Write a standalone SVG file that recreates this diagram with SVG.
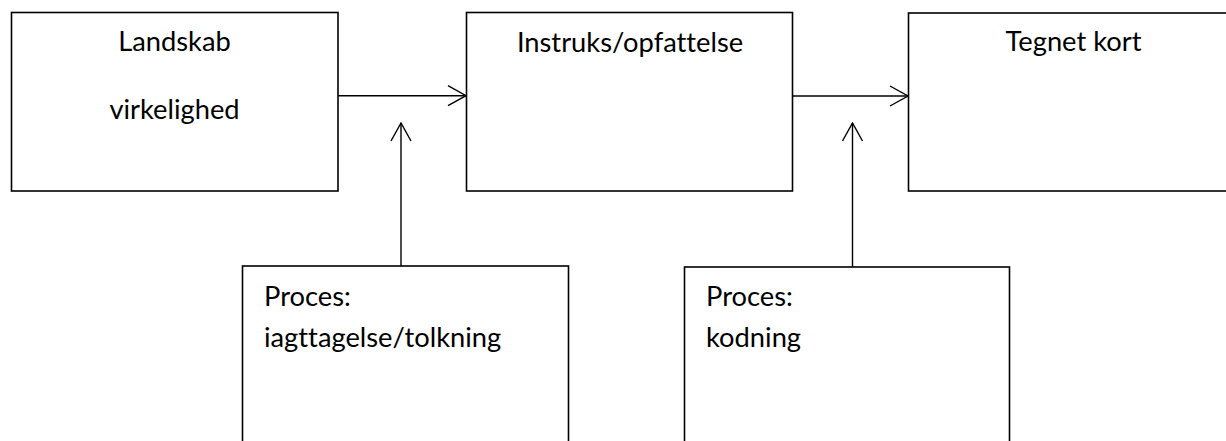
<svg xmlns="http://www.w3.org/2000/svg" width="1226" height="441" viewBox="0 0 1226 441">
<defs>
<style>
.box{fill:#fff;stroke:#000;stroke-width:1.6}
.t{font-family:Lato,"Open Sans","Liberation Sans",sans-serif;font-size:27.3px;fill:#000;font-variant-ligatures:none}
.c{text-anchor:middle}
.ln{fill:none;stroke:#000;stroke-width:1.4}
</style>
<marker id="ah" viewBox="0 0 20 22" refX="19" refY="11" markerWidth="20" markerHeight="22" markerUnits="userSpaceOnUse" orient="auto">
<path d="M1,1 L19,11 L1,21" fill="none" stroke="#000" stroke-width="1.4"/>
</marker>
</defs>
<rect width="1226" height="441" fill="#fff"/>
<g id="node-landskab">
<rect class="box" x="11.5" y="12.5" width="326.5" height="178.5"/>
<text class="t c" x="174.5" y="51">Landskab</text>
<text class="t c" x="174.5" y="119">virkelighed</text>
</g>
<g id="node-instruks">
<rect class="box" x="466.5" y="12.5" width="326" height="178.5"/>
<text class="t c" x="630" y="52">Instruks/opfattelse</text>
</g>
<g id="node-tegnet">
<rect class="box" x="908.5" y="13" width="331" height="178"/>
<text class="t c" x="1073.5" y="51">Tegnet kort</text>
</g>
<g id="node-proces1">
<rect class="box" x="242.5" y="266" width="326" height="190"/>
<text class="t" x="264" y="305.5">Proces:</text>
<text class="t" x="264" y="346.5">iagttagelse/tolkning</text>
</g>
<g id="node-proces2">
<rect class="box" x="684.5" y="267" width="325" height="190"/>
<text class="t" x="706" y="305.5">Proces:</text>
<text class="t" x="706" y="346.5">kodning</text>
</g>
<g id="connectors">
<line class="ln" x1="338" y1="95.7" x2="466" y2="95.7" marker-end="url(#ah)"/>
<line class="ln" x1="792.5" y1="96" x2="908" y2="96" marker-end="url(#ah)"/>
<line class="ln" x1="401" y1="266" x2="401" y2="123" marker-end="url(#ah)"/>
<line class="ln" x1="852.5" y1="267" x2="852.5" y2="123" marker-end="url(#ah)"/>
</g>
</svg>
